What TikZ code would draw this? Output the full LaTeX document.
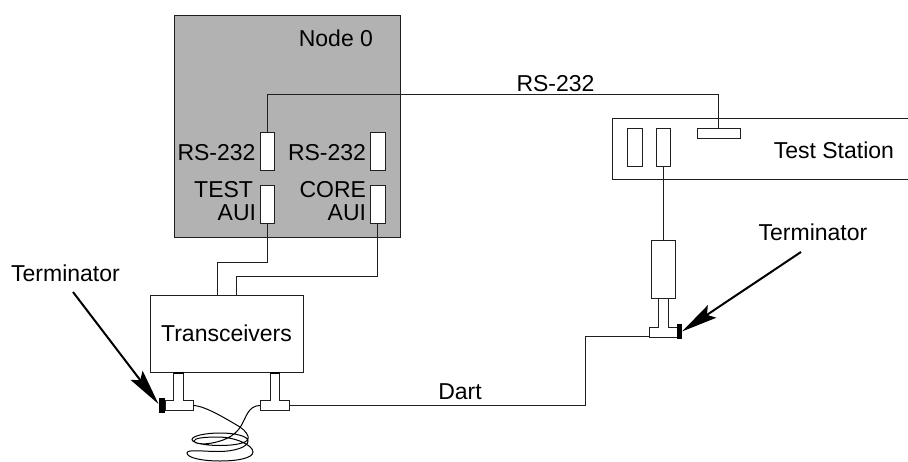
\documentclass[tikz,border=0pt]{standalone}
\usepackage{fontspec}
\setmainfont{Liberation Sans}
\usetikzlibrary{arrows.meta,calc}
\definecolor{nodegray}{gray}{0.70}
\definecolor{wire}{gray}{0.12}
\tikzset{
  box/.style={draw=wire,line width=1pt,fill=white,inner sep=0pt,outer sep=0pt},
  wirel/.style={draw=wire,line width=1pt,line join=miter},
  lbl/.style={inner sep=0pt,outer sep=0pt,font=\fontsize{23}{25}\selectfont},
  pointer/.style={draw=black,line width=2pt,-{Stealth[length=36pt,width=15pt,inset=6pt]}},
  endcap/.style={fill=black,inner sep=0pt,outer sep=0pt},
}
% name, x1, y1, x2, y2, style
\newcommand{\bx}[6]{\node[box,#6,minimum width={#4-#2},minimum height={#5-#3}] (#1) at ({(#2+#4)/2},{(#3+#5)/2}) {};}
% T connector: prefix, stem x1, stem x2, stem top, bar top, bar left, bar right, bar bottom
\newcommand{\tconn}[8]{%
  \draw[box] (#2,#4) -- (#3,#4) -- (#3,#5) -- (#7,#5) -- (#7,#8) -- (#6,#8) -- (#6,#5) -- (#2,#5) -- cycle;
  \coordinate (#1top) at ({(#2+#3)/2},#4);
  \coordinate (#1l) at (#6,{(#5+#8)/2});
  \coordinate (#1r) at (#7,{(#5+#8)/2});
}
\begin{document}
\begin{tikzpicture}[x=1pt,y=-1pt]
\useasboundingbox (0,0) rectangle (908,461);
% Node 0
\bx{node0}{174}{15}{400}{237}{fill=nodegray}
\bx{pa}{260}{132}{274.5}{170.5}{}
\bx{pb}{370.5}{132}{385}{170.5}{}
\bx{pc}{260}{185}{274.5}{223}{}
\bx{pd}{370.5}{185}{385}{223}{}
\node[lbl,anchor=east] (n0) at (373,38) {Node 0};
\node[lbl,anchor=east] (la) at (255.5,153) {RS-232};
\node[lbl,anchor=east] (lb) at (366,153) {RS-232};
\node[lbl,anchor=east] (lc) at (253,190) {TEST};
\node[lbl,anchor=east] (lc2) at (256,213) {AUI};
\node[lbl,anchor=east] (ld) at (366,190) {CORE};
\node[lbl,anchor=east] (ld2) at (366,213) {AUI};
% Transceivers
\bx{trans}{150}{295}{303}{372}{}
\node[lbl] (ttxt) at (226.5,333) {Transceivers};
\coordinate (j1) at (217,295);
\coordinate (j2) at (236,295);
\draw[wirel] (pc.south) |- (j1 |- 0,262) -- (j1);
\draw[wirel] (pd.south) |- (j2 |- 0,276) -- (j2);
% Test station
\draw[box] (908,118) -- (612,118) -- (612,179) -- (908,179);
\bx{qa}{627}{128}{642}{166}{}
\bx{qb}{656}{128}{670.5}{166}{}
\bx{qc}{697}{128}{740}{138}{}
\node[lbl,anchor=east] (tstxt) at (894,150) {Test Station};
\draw[wirel] (pa.north) |- (qc.north |- 0,94) -- (qc.north);
\node[lbl] (rs) at (555.5,84) {RS-232};
% extender and T on right
\bx{ext}{651}{240.5}{675.5}{298.5}{}
\draw[wirel] (qb.south) -- (ext.north);
\tconn{tc}{658.7}{668.5}{298.5}{327}{649}{678}{337}
\node[endcap,minimum width=5pt,minimum height=15pt] (capr) at (679.5,331.5) {};
% left Ts
\tconn{ta}{173.5}{183.5}{372}{400.5}{165}{193}{410.5}
\tconn{tb}{270}{279.5}{372}{400.5}{260}{289}{410.5}
\draw[line width=2pt,black] (173.5,372.5) -- (183.5,372.5);
\draw[line width=2pt,black] (270,372.5) -- (279.5,372.5);
\node[endcap,minimum width=6pt,minimum height=15pt] (capl) at (162,405.5) {};
% Dart
\coordinate (b1) at (585,405.5);
\coordinate (b2) at (585,336);
\draw[wirel] (tbr) -- (b1) -- (b2) -- (tcl |- b2);
\node[lbl] (dart) at (460,392) {Dart};
% Terminators
\node[lbl] (t1) at (65.5,273) {Terminator};
\node[lbl] (t2) at (813,232) {Terminator};
\coordinate (s1) at (73,292);
\coordinate (s2) at (801,252);
\draw[pointer] (s1) -- ($(capl.west)+(-0.5,-1.5)$);
\draw[pointer] (s2) -- (capr.east);
% Coil
\draw[draw=black,line width=1pt]
  (tar) .. controls (205,405.5) and (228,420) .. (240,427)
  .. controls (246,431) and (249,436) .. (248,439)
  .. controls (247,443) and (235,445.5) .. (220,445.5)
  .. controls (205,445.5) and (192,443) .. (192,439.5)
  .. controls (192,436) and (205,433) .. (220,433)
  .. controls (235,433) and (248,436) .. (248,441)
  .. controls (248,447) and (235,451.5) .. (218,451.5)
  .. controls (203,451.5) and (187,449) .. (187,453)
  .. controls (187,458) and (203,461) .. (220,461)
  .. controls (238,461) and (253,458) .. (253,452)
  .. controls (253,445) and (235,437) .. (218,437)
  .. controls (205,437) and (194,438) .. (194,441)
  .. controls (194,444) and (205,444.5) .. (212,443)
  .. controls (228,440) and (236,434) .. (241,426)
  .. controls (246,418) and (248,405.5) .. (tbl);
\end{tikzpicture}
\end{document}
